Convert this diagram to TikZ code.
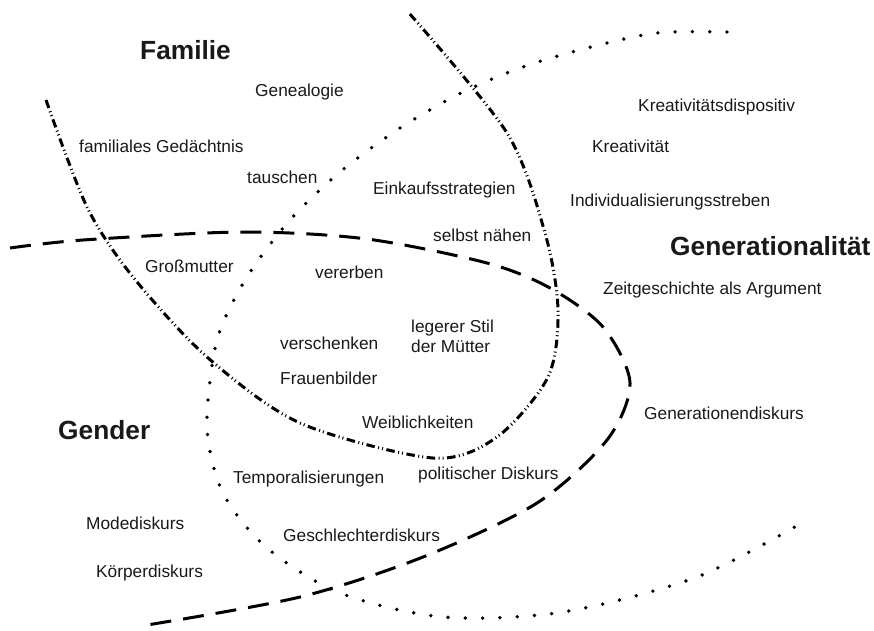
\documentclass[tikz,border=0pt]{standalone}
\usepackage{fontspec}
\setmainfont{Liberation Sans}

\begin{document}
\begin{tikzpicture}[x=1pt,y=-1pt]
\tikzset{every node/.style={anchor=west,inner sep=0pt,text=black!90,font=\fontsize{17.3}{20}\selectfont}}
\tikzset{topic/.style={font=\fontsize{26.3}{30}\selectfont\bfseries}}
\tikzset{familyline/.style={line width=3pt,dash pattern=on 8.5pt off 3.5pt on 1pt off 3pt on 1pt off 3.5pt}}
\tikzset{genline/.style={line width=3pt,dash pattern=on 21pt off 12pt}}
\tikzset{genderline/.style={line width=3.8pt,line cap=round,dash pattern=on 0pt off 17.3pt}}

\useasboundingbox (0,0) rectangle (874,630);

\draw[familyline] plot[smooth] coordinates {(46,100) (87,207) (133,277) (207,357) (300,423) (433,458) (497,437) (548,377) (558,310) (545,233) (507,133) (409,13)};
\draw[genline] plot[smooth] coordinates {(10,248) (83,240) (243,232) (367,239) (487,263) (550,288) (603,327) (630,383) (607,440) (537,503) (423,557) (300,597) (147,625)};
\draw[genderline] plot[smooth] coordinates {(727,32) (657,33) (587,48) (520,68) (457,95) (397,130) (340,172) (290,220) (247,277) (217,340) (207,427) (223,493) (267,548) (340,593) (443,617) (563,612) (697,577) (807,520)};

\node[topic] (familie) at (140,50) {Familie};
\node[topic] (generation) at (670,246) {Generationalität};
\node[topic] (gender) at (58,430) {Gender};

\node (genealogie) at (255,92) {Genealogie};
\node (gedaechtnis) at (79,146) {familiales Gedächtnis};
\node (tauschen) at (247,177) {tauschen};
\node (einkauf) at (373,190) {Einkaufsstrategien};
\node (naehen) at (433,235) {selbst nähen};
\node (grossmutter) at (145,266) {Großmutter};
\node (vererben) at (315,272) {vererben};
\node (dispositiv) at (638,107) {Kreativitätsdispositiv};
\node (kreativitaet) at (592,146) {Kreativität};
\node (individual) at (570,202) {Individualisierungsstreben};
\node (zeitgeschichte) at (603,290) {Zeitgeschichte als Argument};
\node[align=left] (stil) at (411,336) {legerer Stil\\der Mütter};
\node (verschenken) at (280,343) {verschenken};
\node (frauenbilder) at (280,378) {Frauenbilder};
\node (weiblich) at (362,422) {Weiblichkeiten};
\node (temporal) at (233,479) {Temporalisierungen};
\node (politisch) at (418,475) {politischer Diskurs};
\node (gendiskurs) at (644,413) {Generationendiskurs};
\node (mode) at (86,523) {Modediskurs};
\node (geschlecht) at (283,535) {Geschlechterdiskurs};
\node (koerper) at (96,573) {Körperdiskurs};

\end{tikzpicture}
\end{document}
